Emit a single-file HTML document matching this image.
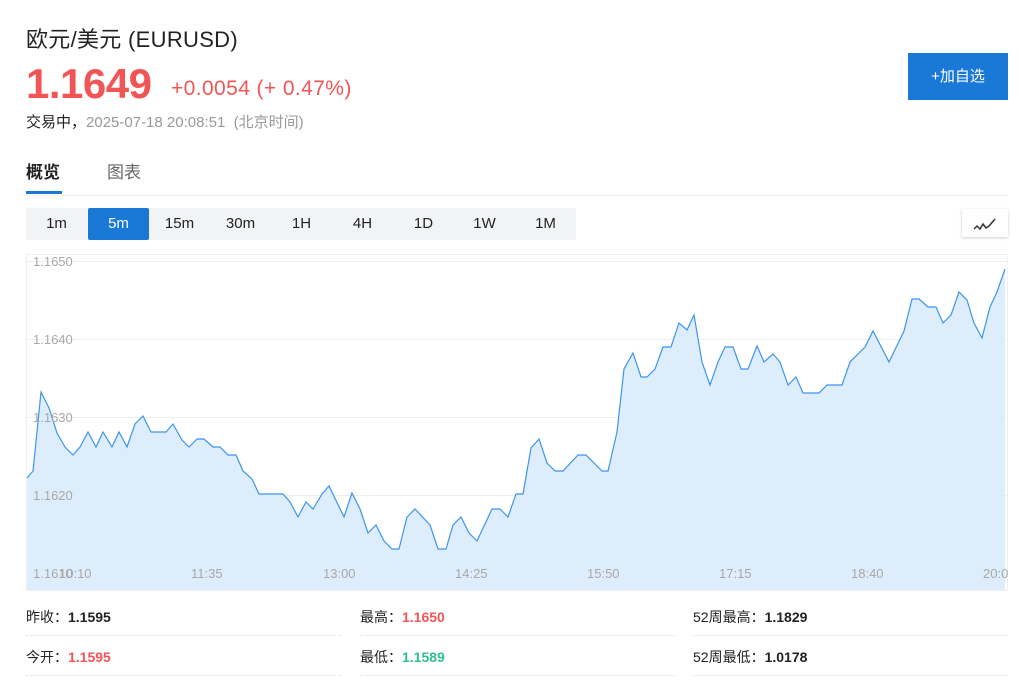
<!DOCTYPE html>
<html><head><meta charset="utf-8"><style>
*{margin:0;padding:0;box-sizing:border-box}
body{width:1024px;height:699px;background:#fff;font-family:"Liberation Sans","Noto Sans CJK SC",sans-serif;position:relative;overflow:hidden;color:#222}
.a{position:absolute;white-space:nowrap}
.tf{position:absolute;top:208px;height:32px;width:61px;text-align:center;line-height:32px;font-size:15px;color:#222}
.st{position:absolute;font-size:14px;color:#222}
.st b{font-weight:bold}
.sep{position:absolute;height:1px;border-top:1px dotted #e2e2e2}
</style></head><body>
<div class="a" style="left:26px;top:22px;font-size:22px;color:#222;letter-spacing:0.3px">欧元/美元&nbsp;(EURUSD)</div>
<div class="a" style="left:26px;top:60px;font-size:42px;font-weight:bold;color:#f25555;letter-spacing:-0.5px">1.1649</div>
<div class="a" style="left:171px;top:77px;font-size:21px;color:#f25555;letter-spacing:0.4px">+0.0054 (+ 0.47%)</div>
<div class="a" style="left:26px;top:111px;font-size:15px;color:#222">交易中，<span style="color:#999">2025-07-18 20:08:51&nbsp; (北京时间)</span></div>
<div class="a" style="left:908px;top:53px;width:100px;height:47px;background:#1a78d6;color:#fff;font-size:15px;text-align:center;line-height:47px">+加自选</div>
<div class="a" style="left:26px;top:158px;font-size:17px;font-weight:bold;color:#222">概览</div>
<div class="a" style="left:107px;top:158px;font-size:17px;color:#666">图表</div>
<div class="a" style="left:26px;top:191px;width:36px;height:3px;background:#1a78d6"></div>
<div class="a" style="left:26px;top:195px;width:982px;height:1px;background:#f0f0f0"></div>
<div class="a" style="left:26px;top:208px;width:550px;height:32px;background:#f2f3f5"></div>
<div class="tf" style="left:26px">1m</div>
<div class="tf" style="left:88px;background:#1a78d6;color:#fff;border-radius:2px">5m</div>
<div class="tf" style="left:149px">15m</div>
<div class="tf" style="left:210px">30m</div>
<div class="tf" style="left:271px">1H</div>
<div class="tf" style="left:332px">4H</div>
<div class="tf" style="left:393px">1D</div>
<div class="tf" style="left:454px">1W</div>
<div class="tf" style="left:515px">1M</div>
<div class="a" style="left:962px;top:209px;width:46px;height:28px;background:#fff;box-shadow:0 1px 3px rgba(0,0,0,0.2)">
<svg width="46" height="28"><polyline points="12,20 15,17 18,20 21,15 24,19 27,17 33,10" fill="none" stroke="#333" stroke-width="1.5"/></svg></div>
<svg class="a" style="left:0;top:0" width="1024" height="699">
<rect x="26.5" y="254.5" width="981" height="336" fill="none" stroke="#f0f0f0"/>
<g stroke="#eee" stroke-width="1"><line x1="26" y1="261.5" x2="1007" y2="261.5"/><line x1="26" y1="339.5" x2="1007" y2="339.5"/><line x1="26" y1="417.5" x2="1007" y2="417.5"/><line x1="26" y1="495.5" x2="1007" y2="495.5"/></g>
<polygon fill="#deedfc" points="27,590 27,478 33,471 41,392 49,408 57,433 65,447 73,455 80,447 88,432 96,447 103,432 112,447 119,432 127,447 135,424 143,416 151,432 166,432 173,424 182,440 189,447 197,439 204,439 213,447 220,447 228,455 236,455 243,471 252,479 259,494 283,494 290,502 298,517 306,502 313,509 322,494 329,486 344,517 352,493 360,509 368,533 376,525 384,541 392,549 399,549 407,517 415,509 430,525 438,549 446,549 453,525 461,517 469,533 477,541 492,509 500,509 508,517 516,494 523,494 531,448 539,439 547,463 555,471 563,471 578,455 586,455 602,471 608,471 617,432 624,369 633,353 641,377 647,377 655,369 663,347 671,347 679,323 687,330 694,315 702,362 710,385 718,362 725,347 733,347 741,369 748,369 757,346 764,362 773,354 780,362 788,385 796,377 803,393 819,393 827,385 842,385 850,362 865,347 873,331 889,362 904,331 912,299 919,299 928,307 936,307 943,323 951,315 959,292 967,300 974,323 982,338 990,307 997,292 1005,269 1005,590"/>
<polyline fill="none" stroke="#3d95ea" stroke-width="1.2" points="27,478 33,471 41,392 49,408 57,433 65,447 73,455 80,447 88,432 96,447 103,432 112,447 119,432 127,447 135,424 143,416 151,432 166,432 173,424 182,440 189,447 197,439 204,439 213,447 220,447 228,455 236,455 243,471 252,479 259,494 283,494 290,502 298,517 306,502 313,509 322,494 329,486 344,517 352,493 360,509 368,533 376,525 384,541 392,549 399,549 407,517 415,509 430,525 438,549 446,549 453,525 461,517 469,533 477,541 492,509 500,509 508,517 516,494 523,494 531,448 539,439 547,463 555,471 563,471 578,455 586,455 602,471 608,471 617,432 624,369 633,353 641,377 647,377 655,369 663,347 671,347 679,323 687,330 694,315 702,362 710,385 718,362 725,347 733,347 741,369 748,369 757,346 764,362 773,354 780,362 788,385 796,377 803,393 819,393 827,385 842,385 850,362 865,347 873,331 889,362 904,331 912,299 919,299 928,307 936,307 943,323 951,315 959,292 967,300 974,323 982,338 990,307 997,292 1005,269"/>
<g font-family="Liberation Sans,sans-serif" font-size="13" fill="#a8a8a8">
<text x="33" y="266">1.1650</text><text x="33" y="344">1.1640</text><text x="33" y="422">1.1630</text><text x="33" y="500">1.1620</text><text x="33" y="578">1.1610</text>
<text x="59" y="578">10:10</text><text x="191" y="578">11:35</text><text x="323" y="578">13:00</text><text x="455" y="578">14:25</text><text x="587" y="578">15:50</text><text x="719" y="578">17:15</text><text x="851" y="578">18:40</text><text x="983" y="578">20:0</text>
</g></svg>
<div class="st" style="left:26px;top:607px">昨收：<b>1.1595</b></div>
<div class="st" style="left:360px;top:607px">最高：<b style="color:#f25555">1.1650</b></div>
<div class="st" style="left:693px;top:607px">52周最高：<b>1.1829</b></div>
<div class="st" style="left:26px;top:647px">今开：<b style="color:#f25555">1.1595</b></div>
<div class="st" style="left:360px;top:647px">最低：<b style="color:#2fbf8f">1.1589</b></div>
<div class="st" style="left:693px;top:647px">52周最低：<b>1.0178</b></div>
<div class="sep" style="left:26px;top:635px;width:316px"></div>
<div class="sep" style="left:360px;top:635px;width:316px"></div>
<div class="sep" style="left:693px;top:635px;width:315px"></div>
<div class="sep" style="left:26px;top:675px;width:316px"></div>
<div class="sep" style="left:360px;top:675px;width:316px"></div>
<div class="sep" style="left:693px;top:675px;width:315px"></div>
</body></html>
